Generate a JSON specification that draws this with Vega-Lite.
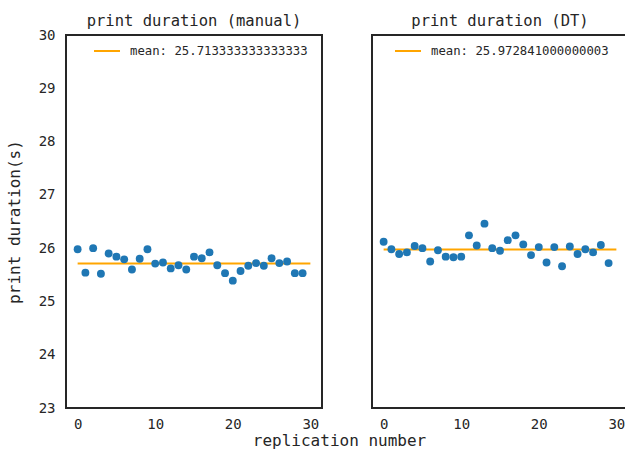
{
  "$schema": "https://vega.github.io/schema/vega-lite/v6.json",
  "padding": {"left": 5, "top": 12, "right": 0, "bottom": 0},
  "background": "white",
  "bounds": "flush",
  "config": {
    "font": "DejaVu Sans Mono",
    "view": {"stroke": "#262626", "strokeWidth": 2},
    "axis": {"domain": false, "ticks": false, "grid": false, "labelFont": "DejaVu Sans Mono", "labelFontSize": 14, "labelColor": "#262626", "titleFont": "DejaVu Sans Mono", "titleFontSize": 16, "titleFontWeight": "normal", "titleColor": "#262626", "labelPadding": 9},
    "axisY": {"labelPadding": 11},
    "title": {"font": "DejaVu Sans Mono", "fontSize": 15.5, "fontWeight": "normal", "color": "#262626", "offset": 9, "frame": "group"},
    "legend": {"labelFont": "DejaVu Sans Mono", "labelFontSize": 12.3, "labelColor": "#262626", "labelLimit": 0},
    "concat": {"spacing": 50}
  },
  "datasets": {
    "manual": [
      {"rep": 0, "dur": 25.98}, {"rep": 1, "dur": 25.54}, {"rep": 2, "dur": 26.00}, {"rep": 3, "dur": 25.52},
      {"rep": 4, "dur": 25.90}, {"rep": 5, "dur": 25.84}, {"rep": 6, "dur": 25.79}, {"rep": 7, "dur": 25.60},
      {"rep": 8, "dur": 25.80}, {"rep": 9, "dur": 25.98}, {"rep": 10, "dur": 25.71}, {"rep": 11, "dur": 25.73},
      {"rep": 12, "dur": 25.62}, {"rep": 13, "dur": 25.68}, {"rep": 14, "dur": 25.60}, {"rep": 15, "dur": 25.84},
      {"rep": 16, "dur": 25.81}, {"rep": 17, "dur": 25.92}, {"rep": 18, "dur": 25.68}, {"rep": 19, "dur": 25.53},
      {"rep": 20, "dur": 25.39}, {"rep": 21, "dur": 25.57}, {"rep": 22, "dur": 25.67}, {"rep": 23, "dur": 25.72},
      {"rep": 24, "dur": 25.67}, {"rep": 25, "dur": 25.81}, {"rep": 26, "dur": 25.72}, {"rep": 27, "dur": 25.75},
      {"rep": 28, "dur": 25.53}, {"rep": 29, "dur": 25.53}
    ],
    "dt": [
      {"rep": 0, "dur": 26.12}, {"rep": 1, "dur": 25.98}, {"rep": 2, "dur": 25.89}, {"rep": 3, "dur": 25.92},
      {"rep": 4, "dur": 26.04}, {"rep": 5, "dur": 26.00}, {"rep": 6, "dur": 25.75}, {"rep": 7, "dur": 25.96},
      {"rep": 8, "dur": 25.84}, {"rep": 9, "dur": 25.83}, {"rep": 10, "dur": 25.84}, {"rep": 11, "dur": 26.24},
      {"rep": 12, "dur": 26.05}, {"rep": 13, "dur": 26.46}, {"rep": 14, "dur": 26.00}, {"rep": 15, "dur": 25.95},
      {"rep": 16, "dur": 26.15}, {"rep": 17, "dur": 26.24}, {"rep": 18, "dur": 26.07}, {"rep": 19, "dur": 25.87},
      {"rep": 20, "dur": 26.02}, {"rep": 21, "dur": 25.73}, {"rep": 22, "dur": 26.02}, {"rep": 23, "dur": 25.66},
      {"rep": 24, "dur": 26.03}, {"rep": 25, "dur": 25.89}, {"rep": 26, "dur": 25.98}, {"rep": 27, "dur": 25.92},
      {"rep": 28, "dur": 26.06}, {"rep": 29, "dur": 25.72}
    ],
    "manualMean": [{"start": 0, "end": 30, "mean": 25.713333333333333, "label": "mean: 25.713333333333333"}],
    "dtMean": [{"start": 0, "end": 30, "mean": 25.972841000000003, "label": "mean: 25.972841000000003"}]
  },
  "hconcat": [
    {
      "width": 256,
      "height": 373,
      "title": {"text": "print duration (manual)", "offset": -1},
      "layer": [
        {
          "data": {"name": "manualMean"},
          "mark": {"type": "rule", "strokeWidth": 2},
          "encoding": {
            "x": {"field": "start", "type": "quantitative", "scale": {"domain": [-1.5, 31.5], "nice": false, "zero": false}},
            "x2": {"field": "end"},
            "y": {"field": "mean", "type": "quantitative", "scale": {"domain": [23, 30], "nice": false, "zero": false}},
            "color": {"field": "label", "type": "nominal", "scale": {"range": ["#ffa500"]},
              "legend": {"title": null, "orient": "none", "legendX": 27, "legendY": 2, "symbolType": "stroke", "symbolSize": 676, "symbolStrokeWidth": 2, "labelOffset": 9, "padding": 0}}
          }
        },
        {
          "data": {"name": "manual"},
          "mark": {"type": "circle", "size": 62, "opacity": 1, "color": "#1f77b4"},
          "encoding": {
            "x": {"field": "rep", "type": "quantitative", "axis": {"values": [0, 10, 20, 30], "format": "d", "title": "replication number", "titleX": 273, "titleAlign": "center", "titlePadding": 1}},
            "y": {"field": "dur", "type": "quantitative", "axis": {"values": [23, 24, 25, 26, 27, 28, 29, 30], "format": "d", "title": "print duration(s)", "titlePadding": 16}}
          }
        }
      ]
    },
    {
      "width": 256,
      "height": 373,
      "title": {"text": "print duration (DT)", "offset": 6},
      "layer": [
        {
          "data": {"name": "dtMean"},
          "mark": {"type": "rule", "strokeWidth": 2},
          "encoding": {
            "x": {"field": "start", "type": "quantitative", "scale": {"domain": [-1.5, 31.5], "nice": false, "zero": false}},
            "x2": {"field": "end"},
            "y": {"field": "mean", "type": "quantitative", "scale": {"domain": [23, 30], "nice": false, "zero": false}},
            "color": {"field": "label", "type": "nominal", "scale": {"range": ["#ffa500"]},
              "legend": {"title": null, "orient": "none", "legendX": 22, "legendY": 2, "symbolType": "stroke", "symbolSize": 676, "symbolStrokeWidth": 2, "labelOffset": 9, "padding": 0}}
          }
        },
        {
          "data": {"name": "dt"},
          "mark": {"type": "circle", "size": 62, "opacity": 1, "color": "#1f77b4"},
          "encoding": {
            "x": {"field": "rep", "type": "quantitative", "axis": {"values": [0, 10, 20, 30], "format": "d", "title": null}},
            "y": {"field": "dur", "type": "quantitative", "axis": {"values": [23, 24, 25, 26, 27, 28, 29, 30], "labels": false, "title": null}}
          }
        }
      ]
    }
  ],
  "resolve": {"legend": {"color": "independent"}, "scale": {"color": "independent"}}
}
